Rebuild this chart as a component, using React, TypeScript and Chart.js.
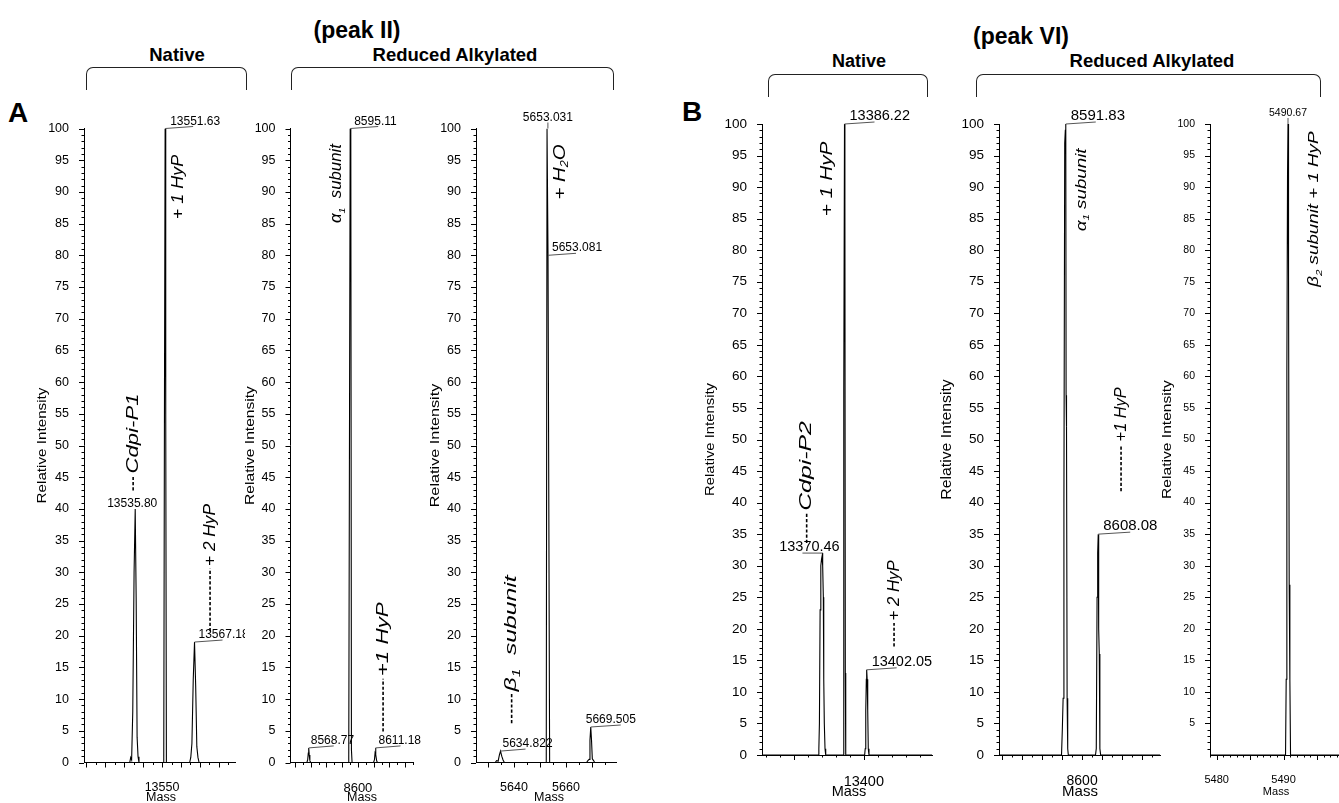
import React, { useEffect, useRef } from 'react';
import { Chart, registerables } from 'chart.js';

Chart.register(...registerables);

const FONT = '"Liberation Sans", Arial, Helvetica, sans-serif';

// ---------------- DATA ----------------
// A (peak II) – native
const aNativeMass = [13508.7, 13532.9, 13533.4, 13533.9, 13534.5, 13535.2, 13535.8, 13536.3, 13536.8, 13537.3, 13537.8, 13550.9, 13551.3, 13551.63, 13551.95, 13552.3, 13564.6, 13565.2, 13565.8, 13566.5, 13567.18, 13567.8, 13568.4, 13569.0, 13569.6, 13588.6];
const aNativeIntensity = [0, 0, 0.8, 0.4, 8, 30, 40, 26, 4, 0.9, 0, 0, 60, 100, 55, 0, 0, 0.8, 3, 13, 19, 12, 2.5, 0.8, 0, 0];
const aNativePeakMass = [13551.63, 13535.8, 13567.18];
const aNativePeakIntensity = [100, 40, 19];
const aNativePeakText = ['13551.63', '13535.80', '13567.18'];
const aNativeXLabels = [13550];

// A (peak II) – reduced alkylated, alpha 1
const aAlphaMass = [8557.2, 8567.6, 8568.1, 8568.5, 8568.77, 8569.1, 8569.5, 8570.0, 8593.8, 8594.2, 8594.6, 8595.11, 8595.5, 8595.9, 8596.3, 8609.9, 8610.5, 8610.9, 8611.18, 8611.5, 8611.9, 8612.4, 8635.0];
const aAlphaIntensity = [0, 0, 0.4, 1.5, 2.3, 1.2, 0.3, 0, 0, 0.6, 45, 100, 99, 2, 0, 0, 0.4, 1.5, 2.3, 1.2, 0.3, 0, 0];
const aAlphaPeakMass = [8595.11, 8568.77, 8611.18];
const aAlphaPeakIntensity = [100, 2.3, 2.3];
const aAlphaPeakText = ['8595.11', '8568.77', '8611.18'];
const aAlphaXLabels = [8600];

// A (peak II) – reduced alkylated, beta 1
const aBetaMass = [5625.4, 5632.8, 5633.3, 5633.9, 5634.4, 5634.822, 5635.3, 5635.8, 5636.3, 5652.4, 5652.7, 5653.031, 5653.081, 5653.45, 5653.7, 5667.9, 5668.4, 5668.9, 5669.2, 5669.505, 5669.8, 5670.1, 5670.6, 5671.0, 5679.4];
const aBetaIntensity = [0, 0, 0.3, 0.2, 1.2, 1.8, 1.0, 0.4, 0, 0, 100, 100, 80, 80, 0, 0, 0.3, 0.5, 3.5, 5.6, 3.5, 0.6, 0.3, 0, 0];
const aBetaPeakMass = [5653.031, 5653.081, 5634.822, 5669.505];
const aBetaPeakIntensity = [100, 80, 1.8, 5.6];
const aBetaPeakText = ['5653.031', '5653.081', '5634.822', '5669.505'];
const aBetaXLabels = [5640, 5660];

// B (peak VI) – native
const bNativeMass = [13327.3, 13367.4, 13367.9, 13368.3, 13368.8, 13369.3, 13369.8, 13370.2, 13370.46, 13370.8, 13371.1, 13371.4, 13371.8, 13372.3, 13372.8, 13385.3, 13385.6, 13385.8, 13386.22, 13386.5, 13386.8, 13387.1, 13400.6, 13401.0, 13401.4, 13401.8, 13402.05, 13402.4, 13402.8, 13403.2, 13403.7, 13448.7];
const bNativeIntensity = [0, 0, 1, 5, 23, 30, 31, 31.5, 32, 30, 25, 12, 5, 1, 0, 0, 17, 58, 100, 88, 13, 0, 0, 1, 7, 12, 13.5, 12, 7, 1, 0, 0];
const bNativePeakMass = [13386.22, 13370.46, 13402.05];
const bNativePeakIntensity = [100, 32, 13.5];
const bNativePeakText = ['13386.22', '13370.46', '13402.05'];
const bNativeXLabels = [13400];

// B (peak VI) – reduced alkylated, alpha 1
const bAlphaMass = [8558.4, 8589.7, 8590.1, 8590.5, 8590.9, 8591.3, 8591.6, 8591.83, 8592.0, 8592.2, 8592.5, 8592.8, 8593.1, 8606.7, 8607.1, 8607.5, 8607.8, 8608.08, 8608.3, 8608.6, 8608.9, 8609.3, 8639.0];
const bAlphaIntensity = [0, 0, 4, 9, 40, 97, 99, 100, 57, 52, 9, 1, 0, 0, 1, 25, 32, 35, 20, 16, 1, 0, 0];
const bAlphaPeakMass = [8591.83, 8608.08];
const bAlphaPeakIntensity = [100, 35];
const bAlphaPeakText = ['8591.83', '8608.08'];
const bAlphaXLabels = [8600];

// B (peak VI) – reduced alkylated, beta 2
const bBetaMass = [5479.0, 5490.3, 5490.4, 5490.5, 5490.6, 5490.67, 5490.75, 5490.85, 5490.95, 5491.05, 5498.3];
const bBetaIntensity = [0, 0, 12, 61, 92, 100, 76, 27, 12, 0, 0];
const bBetaPeakMass = [5490.67];
const bBetaPeakIntensity = [100];
const bBetaPeakText = ['5490.67'];
const bBetaXLabels = [5480, 5490];

const intensityLabels = [0, 5, 10, 15, 20, 25, 30, 35, 40, 45, 50, 55, 60, 65, 70, 75, 80, 85, 90, 95, 100];
const intensityLabelsNoZero = [5, 10, 15, 20, 25, 30, 35, 40, 45, 50, 55, 60, 65, 70, 75, 80, 85, 90, 95, 100];

// ---------------- LAYOUT / STYLE ----------------
type PeakStyle = { kind: 'leader' | 'center' | 'side'; dx: number; len: number };
type Note = { text: string; mass: number; from: number; size: number; stretch: number; dash?: [number, number] };
type Rect = { left: number; right: number; top: number; bottom: number };
interface Panel {
  mass: number[];
  intensity: number[];
  peakMass: number[];
  peakValue: number[];
  peakText: string[];
  xLabels: number[];
  yLabels: number[];
  xMin: number;
  xMax: number;
  xMajor: number;
  xMinor: number;
  box: Rect;
  plot: Rect;
  peakStyles: PeakStyle[];
  notes: Note[];
  fonts: { yTick: number; xTick: number; peak: number; title: number; titleStretch: number; mass: number };
  yTitleX: number;
  massX: number;
  massY: number;
}

const A_TOP = 128.5;
const A_BOTTOM = 762.5;
const B_TOP = 124;
const B_BOTTOM = 755;

const panels: Panel[] = [
  {
    mass: aNativeMass, intensity: aNativeIntensity,
    peakMass: aNativePeakMass, peakValue: aNativePeakIntensity, peakText: aNativePeakText,
    xLabels: aNativeXLabels, yLabels: intensityLabels,
    xMin: 13508.7, xMax: 13588.6, xMajor: 10, xMinor: 5,
    box: { left: 30, right: 245, top: 98, bottom: 803 },
    plot: { left: 84, right: 235, top: A_TOP, bottom: A_BOTTOM },
    peakStyles: [
      { kind: 'leader', dx: 5, len: 28 },
      { kind: 'center', dx: -3, len: 0 },
      { kind: 'leader', dx: 4, len: 28 },
    ],
    notes: [
      { text: '+ 1 HyP', mass: 13558.5, from: 85.7, size: 16, stretch: 1.12 },
      { text: 'Cdpi-P1', mass: 13534.7, from: 45.6, size: 17, stretch: 1.3, dash: [42.9, 45.2] },
      { text: '+ 2 HyP', mass: 13575.4, from: 31, size: 16, stretch: 1.08, dash: [20.7, 30.6] },
    ],
    fonts: { yTick: 12.5, xTick: 12.5, peak: 12, title: 13, titleStretch: 1.17, mass: 12.5 },
    yTitleX: 42, massX: 161, massY: 798,
  },
  {
    mass: aAlphaMass, intensity: aAlphaIntensity,
    peakMass: aAlphaPeakMass, peakValue: aAlphaPeakIntensity, peakText: aAlphaPeakText,
    xLabels: aAlphaXLabels, yLabels: intensityLabels,
    xMin: 8557.2, xMax: 8635.0, xMajor: 10, xMinor: 5,
    box: { left: 238, right: 432, top: 98, bottom: 803 },
    plot: { left: 290.5, right: 413, top: A_TOP, bottom: A_BOTTOM },
    peakStyles: [
      { kind: 'leader', dx: 4, len: 28 },
      { kind: 'leader', dx: 2, len: 25 },
      { kind: 'leader', dx: 3, len: 25 },
    ],
    notes: [
      { text: 'α_1  subunit', mass: 8586.6, from: 85.1, size: 16, stretch: 1.05 },
      { text: '+1 HyP', mass: 8616, from: 13.6, size: 16, stretch: 1.4, dash: [4.9, 13.2] },
    ],
    fonts: { yTick: 12.5, xTick: 13, peak: 12, title: 13, titleStretch: 1.2, mass: 12.5 },
    yTitleX: 250, massX: 362, massY: 798,
  },
  {
    mass: aBetaMass, intensity: aBetaIntensity,
    peakMass: aBetaPeakMass, peakValue: aBetaPeakIntensity, peakText: aBetaPeakText,
    xLabels: aBetaXLabels, yLabels: intensityLabels,
    xMin: 5625.4, xMax: 5679.4, xMajor: 10, xMinor: 5,
    box: { left: 425, right: 660, top: 98, bottom: 803 },
    plot: { left: 476, right: 616.5, top: A_TOP, bottom: A_BOTTOM },
    peakStyles: [
      { kind: 'center', dx: 0, len: 6 },
      { kind: 'leader', dx: 4, len: 28 },
      { kind: 'leader', dx: 2, len: 25 },
      { kind: 'leader', dx: -5, len: 30 },
    ],
    notes: [
      { text: '+ H_2O', mass: 5657.7, from: 88.8, size: 17, stretch: 1.2 },
      { text: 'β_1  subunit', mass: 5639.1, from: 11.2, size: 16.5, stretch: 1.5, dash: [6.2, 10.8] },
    ],
    fonts: { yTick: 12.5, xTick: 12.5, peak: 12, title: 13, titleStretch: 1.25, mass: 12.5 },
    yTitleX: 435, massX: 549, massY: 798,
  },
  {
    mass: bNativeMass, intensity: bNativeIntensity,
    peakMass: bNativePeakMass, peakValue: bNativePeakIntensity, peakText: bNativePeakText,
    xLabels: bNativeXLabels, yLabels: intensityLabels,
    xMin: 13327.3, xMax: 13448.7, xMajor: 50, xMinor: 10,
    box: { left: 695, right: 940, top: 100, bottom: 803 },
    plot: { left: 762, right: 932, top: B_TOP, bottom: B_BOTTOM },
    peakStyles: [
      { kind: 'leader', dx: 5, len: 30 },
      { kind: 'side', dx: -13, len: 20 },
      { kind: 'leader', dx: 5, len: 30 },
    ],
    notes: [
      { text: '+ 1 HyP', mass: 13374.4, from: 85.4, size: 16, stretch: 1.3 },
      { text: 'Cdpi-P2', mass: 13359.2, from: 38.7, size: 16, stretch: 1.55, dash: [33.6, 38.3] },
      { text: '+ 2 HyP', mass: 13421.6, from: 21.3, size: 16, stretch: 1.05, dash: [17.2, 20.9] },
    ],
    fonts: { yTick: 13.5, xTick: 14.5, peak: 14.5, title: 13.5, titleStretch: 1.1, mass: 14.5 },
    yTitleX: 710, massX: 849, massY: 792,
  },
  {
    mass: bAlphaMass, intensity: bAlphaIntensity,
    peakMass: bAlphaPeakMass, peakValue: bAlphaPeakIntensity, peakText: bAlphaPeakText,
    xLabels: bAlphaXLabels, yLabels: intensityLabels,
    xMin: 8558.4, xMax: 8639, xMajor: 10, xMinor: 5,
    box: { left: 935, right: 1175, top: 100, bottom: 803 },
    plot: { left: 999, right: 1160, top: B_TOP, bottom: B_BOTTOM },
    peakStyles: [
      { kind: 'leader', dx: 5, len: 30 },
      { kind: 'leader', dx: 5, len: 32 },
    ],
    notes: [
      { text: 'α_1 subunit', mass: 8599.8, from: 83, size: 15, stretch: 1.25 },
      { text: '+1 HyP', mass: 8619.5, from: 49.7, size: 16, stretch: 1.02, dash: [41.8, 49.2] },
    ],
    fonts: { yTick: 13.5, xTick: 14, peak: 15, title: 14, titleStretch: 1.13, mass: 15 },
    yTitleX: 947, massX: 1080, massY: 792,
  },
  {
    mass: bBetaMass, intensity: bBetaIntensity,
    peakMass: bBetaPeakMass, peakValue: bBetaPeakIntensity, peakText: bBetaPeakText,
    xLabels: bBetaXLabels, yLabels: intensityLabelsNoZero,
    xMin: 5479.0, xMax: 5498.3, xMajor: 5, xMinor: 1,
    box: { left: 1155, right: 1339, top: 100, bottom: 803 },
    plot: { left: 1210, right: 1339, top: B_TOP, bottom: B_BOTTOM },
    peakStyles: [{ kind: 'center', dx: 0, len: 6 }],
    notes: [{ text: 'β_2 subunit + 1 HyP', mass: 5494.6, from: 74.2, size: 15, stretch: 1.25 }],
    fonts: { yTick: 10.5, xTick: 11, peak: 10.5, title: 12, titleStretch: 1.3, mass: 11 },
    yTitleX: 1168, massX: 1276, massY: 792,
  },
];

// ---------------- DRAWING HELPERS ----------------
function drawRotatedRich(ctx: CanvasRenderingContext2D, text: string, x: number, y: number, size: number, stretch: number) {
  const parts = text.split(/(_\d)/).filter((s) => s.length > 0);
  ctx.save();
  ctx.translate(x, y);
  ctx.rotate(-Math.PI / 2);
  ctx.scale(stretch, 1);
  ctx.textBaseline = 'middle';
  ctx.textAlign = 'left';
  let cx = 0;
  for (const part of parts) {
    if (part.startsWith('_')) {
      const s = part.slice(1);
      ctx.font = `italic ${size * 0.62}px ${FONT}`;
      ctx.fillText(s, cx, size * 0.32);
      cx += ctx.measureText(s).width;
    } else {
      ctx.font = `italic ${size}px ${FONT}`;
      ctx.fillText(part, cx, 0);
      cx += ctx.measureText(part).width;
    }
  }
  ctx.restore();
}

function makeDecor(p: Panel) {
  return {
    id: 'decor',
    afterDraw(chart: any) {
      const ctx: CanvasRenderingContext2D = chart.ctx;
      const xs = chart.scales.x;
      const ys = chart.scales.y;
      const ca = chart.chartArea;
      ctx.save();
      ctx.strokeStyle = '#000';
      ctx.fillStyle = '#000';
      ctx.lineWidth = 1;

      // axis tick marks (major + minor)
      ctx.beginPath();
      const yStart = p.yLabels[0] === 0 ? 0 : 1;
      for (let v = yStart; v <= 100; v++) {
        const py = Math.round(ys.getPixelForValue(v)) + 0.5;
        const len = v % 5 === 0 ? 5 : 2.5;
        ctx.moveTo(ca.left - len, py);
        ctx.lineTo(ca.left, py);
      }
      const k0 = Math.ceil(p.xMin / p.xMinor);
      const k1 = Math.floor(p.xMax / p.xMinor);
      for (let k = k0; k <= k1; k++) {
        const v = k * p.xMinor;
        const px = Math.round(xs.getPixelForValue(v)) + 0.5;
        const r = v / p.xMajor;
        const major = Math.abs(r - Math.round(r)) < 1e-6;
        const len = major ? 5 : 2.5;
        ctx.moveTo(px, ca.bottom);
        ctx.lineTo(px, ca.bottom + len);
      }
      ctx.stroke();

      // peak labels with leader lines
      ctx.font = `${p.fonts.peak}px ${FONT}`;
      ctx.textBaseline = 'alphabetic';
      p.peakText.forEach((t, i) => {
        const px = xs.getPixelForValue(p.peakMass[i]);
        const py = ys.getPixelForValue(p.peakValue[i]);
        const s = p.peakStyles[i];
        ctx.strokeStyle = '#555';
        ctx.lineWidth = 1;
        ctx.beginPath();
        if (s.kind === 'leader') {
          ctx.moveTo(px, py);
          ctx.lineTo(px + s.len, py - 2);
          ctx.stroke();
          ctx.textAlign = 'left';
          ctx.fillText(t, px + s.dx, py - 4);
        } else if (s.kind === 'center') {
          if (s.len > 0) {
            ctx.moveTo(px, py);
            ctx.lineTo(px, py - s.len);
            ctx.stroke();
          }
          ctx.textAlign = 'center';
          ctx.fillText(t, px + s.dx, py - s.len - 2);
        } else {
          ctx.moveTo(px - s.len, py);
          ctx.lineTo(px, py);
          ctx.stroke();
          ctx.textAlign = 'center';
          ctx.fillText(t, px + s.dx, py - 2);
        }
      });

      // rotated italic annotations with dashed leaders
      ctx.fillStyle = '#000';
      p.notes.forEach((n) => {
        const px = xs.getPixelForValue(n.mass);
        const py = ys.getPixelForValue(n.from);
        if (n.dash) {
          ctx.save();
          ctx.strokeStyle = '#000';
          ctx.lineWidth = 1.6;
          ctx.setLineDash([3.2, 2]);
          ctx.beginPath();
          ctx.moveTo(px, ys.getPixelForValue(n.dash[0]));
          ctx.lineTo(px, ys.getPixelForValue(n.dash[1]));
          ctx.stroke();
          ctx.restore();
        }
        drawRotatedRich(ctx, n.text, px, py, n.size, n.stretch);
      });

      // axis titles
      ctx.save();
      ctx.translate(p.yTitleX - p.box.left, (ca.top + ca.bottom) / 2);
      ctx.rotate(-Math.PI / 2);
      ctx.scale(p.fonts.titleStretch, 1);
      ctx.textAlign = 'center';
      ctx.textBaseline = 'middle';
      ctx.font = `${p.fonts.title}px ${FONT}`;
      ctx.fillText('Relative Intensity', 0, 0);
      ctx.restore();

      ctx.textAlign = 'center';
      ctx.textBaseline = 'middle';
      ctx.font = `${p.fonts.mass}px ${FONT}`;
      ctx.fillText('Mass', p.massX - p.box.left, p.massY - p.box.top);
      ctx.restore();
    },
  };
}

function SpectrumPanel({ p }: { p: Panel }) {
  const ref = useRef<HTMLCanvasElement>(null);
  const w = p.box.right - p.box.left;
  const h = p.box.bottom - p.box.top;
  useEffect(() => {
    const canvas = ref.current;
    if (!canvas) return;
    const points = p.mass.map((m, i) => ({ x: m, y: p.intensity[i] }));
    const chart = new Chart(canvas, {
      type: 'line',
      data: {
        datasets: [
          {
            data: points,
            borderColor: '#000',
            borderWidth: 1.1,
            pointRadius: 0,
            tension: 0,
            fill: false,
          },
        ],
      },
      options: {
        animation: false,
        responsive: false,
        devicePixelRatio: 1,
        events: [],
        layout: {
          padding: {
            left: 0,
            bottom: 0,
            top: p.plot.top - p.box.top,
            right: p.box.right - p.plot.right,
          },
        },
        plugins: { legend: { display: false }, tooltip: { enabled: false } },
        scales: {
          x: {
            type: 'linear',
            min: p.xMin,
            max: p.xMax,
            grid: { display: false },
            border: { display: true, color: '#000', width: 1 },
            ticks: {
              color: '#000',
              padding: 10,
              maxRotation: 0,
              autoSkip: false,
              font: { family: FONT, size: p.fonts.xTick },
              callback: (v: any) => String(v),
            },
            afterBuildTicks: (s: any) => {
              s.ticks = p.xLabels.map((v) => ({ value: v }));
            },
            afterFit: (s: any) => {
              s.height = p.box.bottom - p.plot.bottom;
            },
          },
          y: {
            type: 'linear',
            min: 0,
            max: 100,
            grid: { display: false },
            border: { display: true, color: '#000', width: 1 },
            ticks: {
              color: '#000',
              padding: 7,
              autoSkip: false,
              font: { family: FONT, size: p.fonts.yTick },
              callback: (v: any) => String(v),
            },
            afterBuildTicks: (s: any) => {
              s.ticks = p.yLabels.map((v) => ({ value: v }));
            },
            afterFit: (s: any) => {
              s.width = p.plot.left - p.box.left;
            },
          },
        },
      },
      plugins: [makeDecor(p)],
    } as any);
    return () => chart.destroy();
  }, [p]);
  return (
    <canvas
      ref={ref}
      width={w}
      height={h}
      style={{ position: 'absolute', left: p.box.left, top: p.box.top, width: w, height: h }}
    />
  );
}

function Text({ x, y, size, children }: { x: number; y: number; size: number; children: React.ReactNode }) {
  return (
    <div
      style={{
        position: 'absolute',
        left: x,
        top: y,
        transform: 'translate(-50%, -50%)',
        font: `bold ${size}px ${FONT}`,
        whiteSpace: 'nowrap',
        color: '#000',
        lineHeight: 1,
      }}
    >
      {children}
    </div>
  );
}

function Bracket({ left, right, top, bottom }: Rect) {
  return (
    <div
      style={{
        position: 'absolute',
        left,
        top,
        width: right - left,
        height: bottom - top,
        boxSizing: 'border-box',
        border: '1.5px solid #222',
        borderBottom: 'none',
        borderRadius: '7px 7px 0 0',
      }}
    />
  );
}

export default function App() {
  return (
    <div
      style={{
        position: 'absolute',
        left: 0,
        top: 0,
        width: 1339,
        height: 803,
        background: '#fff',
        overflow: 'hidden',
      }}
    >
      <Text x={357} y={30} size={23}>(peak II)</Text>
      <Text x={177} y={55} size={18.5}>Native</Text>
      <Text x={455} y={55} size={18.5}>Reduced Alkylated</Text>
      <Bracket left={86} right={247} top={67} bottom={90} />
      <Bracket left={291} right={614} top={67} bottom={90} />

      <Text x={1021} y={36} size={23}>(peak VI)</Text>
      <Text x={859} y={61} size={18}>Native</Text>
      <Text x={1152} y={61} size={18.5}>Reduced Alkylated</Text>
      <Bracket left={768} right={928} top={74} bottom={97} />
      <Bracket left={976} right={1321} top={74} bottom={97} />

      <div style={{ position: 'absolute', left: 8, top: 113, transform: 'translateY(-50%)', font: `bold 28px ${FONT}`, lineHeight: 1 }}>A</div>
      <div style={{ position: 'absolute', left: 682, top: 112, transform: 'translateY(-50%)', font: `bold 28px ${FONT}`, lineHeight: 1 }}>B</div>

      {panels.map((p, i) => (
        <SpectrumPanel key={i} p={p} />
      ))}
    </div>
  );
}
